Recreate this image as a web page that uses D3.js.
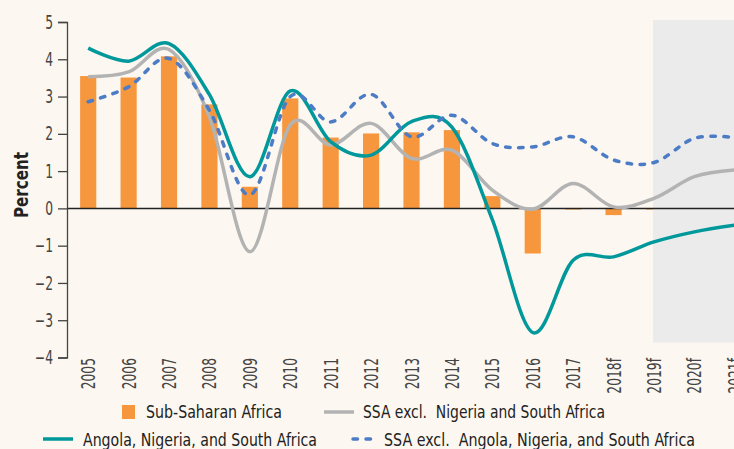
<!DOCTYPE html>
<html>
<head>
<meta charset="utf-8">
<script src="https://cdn.jsdelivr.net/npm/d3@7"></script>
<style>
  html, body { margin: 0; padding: 0; background: #fcf7f0; }
  svg text { font-family: "DejaVu Sans Condensed", "Liberation Sans", sans-serif; }
</style>
</head>
<body>
<div id="chart"></div>
<script>
// categories on the x axis
const years = ["2005", "2006", "2007", "2008", "2009", "2010", "2011", "2012", "2013",
  "2014", "2015", "2016", "2017", "2018f", "2019f", "2020f", "2021f"];

// Sub-Saharan Africa (bars)
const ssa = [3.55, 3.51, 4.08, 2.79, 0.58, 2.95, 1.9, 2.01, 2.04, 2.1, 0.33, -1.21, -0.03, -0.18, -0.03, 0, 0];
// SSA excl. Nigeria and South Africa (grey line)
const exNgZa = [3.53, 3.66, 4.26, 2.45, -1.16, 2.24, 1.7, 2.28, 1.34, 1.56, 0.49, -0.02, 0.67, 0.04, 0.27, 0.85, 1.03];
// Angola, Nigeria, and South Africa (teal line)
const agoNgaZaf = [4.3, 3.95, 4.42, 3.05, 0.85, 3.15, 1.79, 1.43, 2.33, 2.18, -0.3, -3.33, -1.39, -1.3, -0.9, -0.63, -0.45];
// SSA excl. Angola, Nigeria, and South Africa (blue dashed line)
const exAgoNgZa = [2.86, 3.26, 4.02, 2.63, 0.36, 3.0, 2.32, 3.06, 1.92, 2.5, 1.74, 1.65, 1.92, 1.3, 1.23, 1.88, 1.9];

const yTicks = [-4, -3, -2, -1, 0, 1, 2, 3, 4, 5];
const forecastStart = "2019f";

const width = 734, height = 449;
// the original font is a condensed face; squeeze the text horizontally
const squeeze = 0.72;

const svg = d3.select("#chart").append("svg")
  .attr("width", width)
  .attr("height", height);

svg.append("rect").attr("width", width).attr("height", height).attr("fill", "#fcf7f0");

// scales
const x = d3.scaleBand().domain(years).range([68, 755]).padding(0);
const y = d3.scaleLinear().domain([-4, 5]).range([357.5, 22]);
const cx = d => x(d) + x.bandwidth() / 2;
const barW = x.bandwidth() * 0.4;

// bars
svg.append("g").selectAll("rect")
  .data(years)
  .enter()
  .append("rect")
  .attr("x", (d) => cx(d) - barW / 2)
  .attr("y", (d, i) => y(Math.max(0, ssa[i])))
  .attr("width", barW)
  .attr("height", (d, i) => Math.abs(y(ssa[i]) - y(0)))
  .attr("fill", "#f7973d");

// forecast shading
svg.append("rect")
  .attr("x", cx(forecastStart) - 1)
  .attr("y", y(5) - 2)
  .attr("width", width - cx(forecastStart) + 1)
  .attr("height", y(-3.6) - y(5) + 2)
  .attr("fill", "#ebebeb");

// zero line
svg.append("line")
  .attr("x1", 67).attr("x2", width)
  .attr("y1", y(0)).attr("y2", y(0))
  .attr("stroke", "#222")
  .attr("stroke-width", 1.5);

// y axis
const yAxis = svg.append("g")
  .attr("transform", "translate(67,0)")
  .call(d3.axisLeft(y).tickValues(yTicks).tickSize(9).tickPadding(5)
    .tickFormat(d => d < 0 ? "\u2212" + Math.abs(d) : d));
yAxis.select(".domain").attr("stroke", "#444").attr("stroke-width", 1.3);
yAxis.selectAll(".tick line").attr("stroke", "#444").attr("stroke-width", 1.3);
yAxis.selectAll("text")
  .style("font-size", "19px")
  .attr("fill", "#444")
  .attr("x", -14 / squeeze)
  .attr("transform", "scale(" + squeeze + ",1)");

// y axis title
svg.append("text")
  .attr("transform", "translate(28,185) rotate(-90)")
  .attr("text-anchor", "middle")
  .attr("textLength", 66)
  .attr("lengthAdjust", "spacingAndGlyphs")
  .style("font-size", "19px")
  .style("font-weight", "bold")
  .attr("fill", "#222")
  .text("Percent");

// x tick labels
svg.append("g").selectAll("text")
  .data(years)
  .enter()
  .append("text")
  .attr("transform", (d) => "translate(" + (cx(d) + 7) + ",358) rotate(-90) scale(" + squeeze + ",1)")
  .attr("text-anchor", "end")
  .style("font-size", "19px")
  .attr("fill", "#444")
  .text((d) => d);

// lines
const line = (vals) => d3.line()
  .x((d, i) => cx(years[i]))
  .y((d) => y(d))
  .curve(d3.curveCatmullRom.alpha(0))(vals);

svg.append("path")
  .attr("d", line(exNgZa))
  .attr("fill", "none")
  .attr("stroke", "#b3b3b3")
  .attr("stroke-width", 3.5);

svg.append("path")
  .attr("d", line(agoNgaZaf))
  .attr("fill", "none")
  .attr("stroke", "#00989b")
  .attr("stroke-width", 3.5);

svg.append("path")
  .attr("d", line(exAgoNgZa))
  .attr("fill", "none")
  .attr("stroke", "#4d7cc6")
  .attr("stroke-width", 3.5)
  .attr("stroke-linecap", "round")
  .attr("stroke-dasharray", "4.5,8.5");

// legend
const legend = svg.append("g").style("font-size", "17.5px").attr("fill", "#222");

legend.append("rect").attr("x", 122).attr("y", 405).attr("width", 13).attr("height", 14).attr("fill", "#f7973d");
legend.append("text").attr("x", 146).attr("y", 418)
  .attr("textLength", 136).attr("lengthAdjust", "spacingAndGlyphs")
  .text("Sub-Saharan Africa");

legend.append("line").attr("x1", 324).attr("x2", 354).attr("y1", 412).attr("y2", 412)
  .attr("stroke", "#b3b3b3").attr("stroke-width", 3.5);
legend.append("text").attr("x", 363).attr("y", 418).style("white-space", "pre")
  .attr("textLength", 242).attr("lengthAdjust", "spacingAndGlyphs")
  .text("SSA excl.  Nigeria and South Africa");

legend.append("line").attr("x1", 43).attr("x2", 73).attr("y1", 439).attr("y2", 439)
  .attr("stroke", "#00989b").attr("stroke-width", 3.5);
legend.append("text").attr("x", 83).attr("y", 446)
  .attr("textLength", 234).attr("lengthAdjust", "spacingAndGlyphs")
  .text("Angola, Nigeria, and South Africa");

legend.append("line").attr("x1", 353).attr("x2", 378).attr("y1", 439).attr("y2", 439)
  .attr("stroke", "#4d7cc6").attr("stroke-width", 3.5)
  .attr("stroke-linecap", "round").attr("stroke-dasharray", "4.5,8.5");
legend.append("text").attr("x", 384).attr("y", 446).style("white-space", "pre")
  .attr("textLength", 311).attr("lengthAdjust", "spacingAndGlyphs")
  .text("SSA excl.  Angola, Nigeria, and South Africa");
</script>
</body>
</html>
